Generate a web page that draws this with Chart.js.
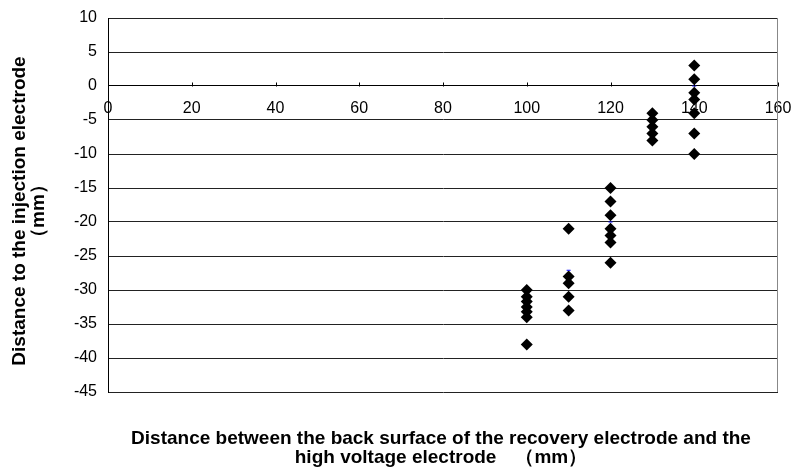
<!DOCTYPE html>
<html>
<head>
<meta charset="utf-8">
<script src="https://cdn.jsdelivr.net/npm/chart.js@4.4.1/dist/chart.umd.min.js"></script>
<style>
  html, body { margin: 0; padding: 0; background: #fff; }
  #wrap { position: relative; width: 792px; height: 467px; }
  #c { position: absolute; left: 0; top: 0; }
  .ttl { position: absolute; font-family: "Liberation Sans", Arial, sans-serif; font-weight: bold; color: #000; white-space: nowrap; text-align: center; }
  #xt { left: 0; width: 882px; top: 428px; font-size: 19px; line-height: 19px; }
  #yt { left: 28px; top: 211px; width: 400px; font-size: 19px; line-height: 19px; transform: translate(-50%, -50%) rotate(-90deg); }
</style>
</head>
<body>
<div id="wrap">
  <canvas id="c" width="792" height="467"></canvas>
  <div class="ttl" id="xt">Distance between the back surface of the recovery electrode and the<br>high voltage electrode　（mm）</div>
  <div class="ttl" id="yt">Distance to the injection electrode<br>（mm）</div>
</div>
<script>
// Data
const xCategories = [100, 110, 120, 130, 140];
const y100 = [-30, -31, -31.7, -32.5, -33.2, -34, -38];
const y110 = [-21, -28, -29, -31, -33];
const y120 = [-15, -17, -19, -21, -22, -23, -26];
const y130 = [-4, -5, -6, -7, -8];
const y140 = [3, 1, -1, -2, -4, -7, -10];
const blueX = [110, 120, 140];
const blueY = [-27.1, -20, 0];
const xTicks = [0, 20, 40, 60, 80, 100, 120, 140, 160];
const yTicks = [10, 5, 0, -5, -10, -15, -20, -25, -30, -35, -40, -45];

const groups = [y100, y110, y120, y130, y140];
const diamondPts = [];
groups.forEach((ys, i) => ys.forEach(v => diamondPts.push({ x: xCategories[i], y: v })));
const bluePts = blueX.map((x, i) => ({ x: x, y: blueY[i] }));

const FONT = "'Liberation Sans', Arial, sans-serif";

const extras = {
  id: 'extras',
  afterDraw(chart) {
    const ctx = chart.ctx;
    const xs = chart.scales.x, ys = chart.scales.y;
    const a = chart.chartArea;
    const y0 = Math.round(ys.getPixelForValue(0)) + 0.5;
    ctx.save();
    ctx.strokeStyle = '#000';
    ctx.lineWidth = 1;
    xTicks.forEach(t => {
      const px = Math.round(xs.getPixelForValue(t)) + 0.5;
      ctx.beginPath();
      ctx.moveTo(px, y0);
      ctx.lineTo(px, y0 - 4);
      ctx.stroke();
    });
    ctx.strokeStyle = '#888';
    const rx = Math.round(a.right) - 0.5;
    ctx.beginPath();
    ctx.moveTo(rx, a.top);
    ctx.lineTo(rx, a.bottom);
    ctx.stroke();
    ctx.restore();
  }
};

new Chart(document.getElementById('c'), {
  type: 'scatter',
  data: {
    datasets: [
      {
        label: 'marks',
        data: bluePts,
        pointStyle: 'line',
        pointRadius: 2,
        pointBorderWidth: 1,
        borderColor: '#0000ff',
        backgroundColor: '#0000ff'
      },
      {
        label: 'points',
        data: diamondPts,
        pointStyle: 'rectRot',
        pointRadius: 6,
        pointBorderWidth: 0,
        backgroundColor: '#000',
        borderColor: '#000'
      }
    ]
  },
  options: {
    responsive: false,
    animation: false,
    events: [],
    layout: { padding: { left: 58, right: 14, top: 18, bottom: 75 } },
    plugins: { legend: { display: false }, tooltip: { enabled: false } },
    scales: {
      x: {
        type: 'linear',
        position: { y: 0 },
        min: 0, max: 160,
        afterFit(s) { s.height = 0; s.paddingLeft = 0; s.paddingRight = 0; },
        afterBuildTicks(s) { s.ticks = xTicks.map(v => ({ value: v })); },
        grid: { display: false },
        border: { display: true, color: '#000', width: 1 },
        ticks: { padding: 5, color: '#000', font: { family: FONT, size: 16 }, maxRotation: 0, autoSkip: false }
      },
      y: {
        type: 'linear',
        min: -45, max: 10,
        afterFit(s) { s.width = 50; s.paddingTop = 0; s.paddingBottom = 0; },
        afterBuildTicks(s) { s.ticks = yTicks.map(v => ({ value: v })); },
        grid: { color: '#222', lineWidth: 1, drawTicks: false },
        border: { display: true, color: '#000', width: 1 },
        ticks: { padding: 11, color: '#000', font: { family: FONT, size: 16 }, autoSkip: false }
      }
    }
  },
  plugins: [extras]
});
</script>
</body>
</html>
